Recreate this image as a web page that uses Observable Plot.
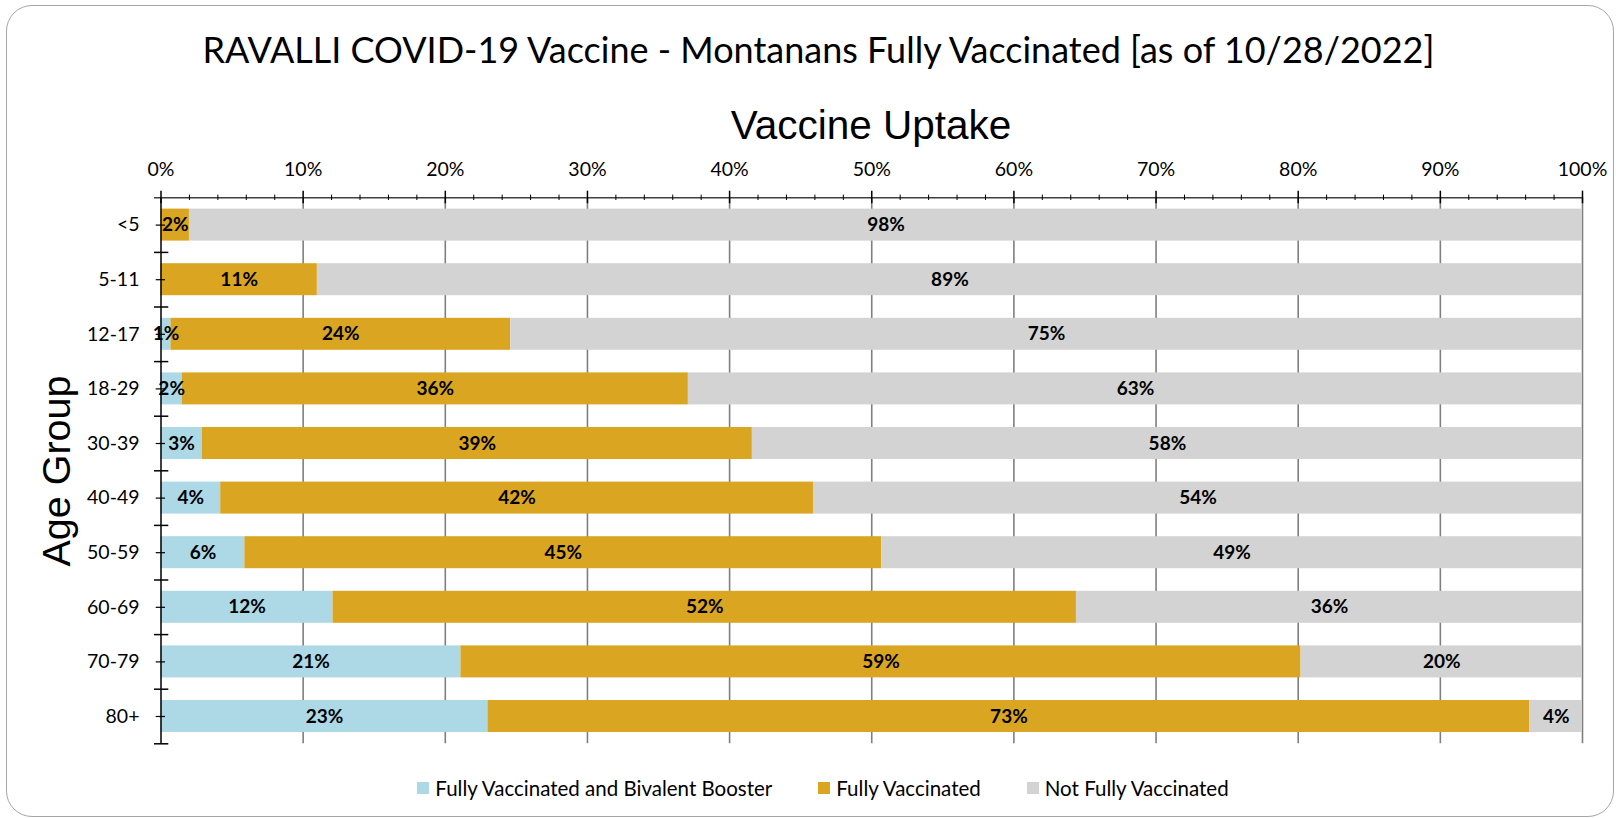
<!DOCTYPE html>
<html>
<head>
<meta charset="utf-8">
<script src="https://cdn.jsdelivr.net/npm/d3@7"></script>
<script src="https://cdn.jsdelivr.net/npm/@observablehq/plot@0.6"></script>
<style>
  body { margin: 0; background: #fff; }
  #wrap { position: relative; width: 1623px; height: 818px; overflow: hidden; font-family: Lato, "Open Sans", sans-serif; color: #000; }
  #frame { position: absolute; left: 6px; top: 5px; width: 1608px; height: 812px; border: 1px solid #a6a6a6; border-radius: 26px; box-sizing: border-box; }
  #title { position: absolute; left: 0; width: 1637px; top: 30.5px; text-align: center; font-size: 36px; line-height: 1; white-space: nowrap; }
  #sub { position: absolute; left: 0; width: 1742px; top: 105px; text-align: center; font-family: "Liberation Sans", Arial, sans-serif; font-size: 40.5px; line-height: 1; white-space: nowrap; }
  #ylab { position: absolute; left: 57px; top: 470.5px; width: 400px; transform: translate(-50%, -50%) rotate(-90deg); text-align: center; font-family: "Liberation Sans", Arial, sans-serif; font-size: 39.5px; line-height: 1; white-space: nowrap; }
  #chart { position: absolute; left: 0; top: 140px; }
  #legend { position: absolute; left: 0; width: 1646px; top: 777px; display: flex; justify-content: center; gap: 46px; font-size: 20.5px; line-height: 22px; white-space: nowrap; }
  .item { display: flex; align-items: center; }
  .sw { display: inline-block; width: 12px; height: 12px; margin-right: 6px; }
</style>
</head>
<body>
<div id="wrap">
  <div id="frame"></div>
  <div id="title">RAVALLI COVID-19 Vaccine - Montanans Fully Vaccinated [as of 10/28/2022]</div>
  <div id="sub">Vaccine Uptake</div>
  <div id="ylab">Age Group</div>
  <div id="chart"></div>
  <div id="legend"></div>
</div>
<script>
// ---- data ----
const groups = ["<5", "5-11", "12-17", "18-29", "30-39", "40-49", "50-59", "60-69", "70-79", "80+"];
const booster = [0, 0, 0.7, 1.5, 2.9, 4.2, 5.9, 12.1, 21.1, 23.0];
const fully = [2.0, 11.0, 23.9, 35.6, 38.7, 41.7, 44.8, 52.3, 59.1, 73.3];
const notFully = [98.0, 89.0, 75.4, 62.9, 58.4, 54.1, 49.3, 35.6, 19.8, 3.7];
const seriesNames = ["Fully Vaccinated and Bivalent Booster", "Fully Vaccinated", "Not Fully Vaccinated"];
const seriesColors = ["lightblue", "goldenrod", "lightgray"];
const xTicks = [0, 10, 20, 30, 40, 50, 60, 70, 80, 90, 100];
const minorTicks = d3.range(0, 101, 2).filter(t => t % 10 !== 0);

const seriesValues = [booster, fully, notFully];
const rows = [];
groups.forEach((g, i) => {
  seriesNames.forEach((s, j) => rows.push({group: g, series: s, value: seriesValues[j][i]}));
});

// ---- layout ----
const W = 1623, Hsvg = 620;
const mT = 57.3, mB = 16.7, mL = 160.5, mR = 41;
const H = Hsvg - mT - mB;           // frame height
const FW = W - mL - mR;             // frame width
const step = H / groups.length;

const chart = Plot.plot({
  width: W,
  height: Hsvg,
  marginTop: mT, marginBottom: mB, marginLeft: mL, marginRight: mR,
  style: {fontFamily: "Lato, 'Open Sans', sans-serif", fontSize: "19.5px", color: "#000", background: "transparent", overflow: "visible"},
  x: {domain: [0, 100]},
  y: {domain: groups, paddingInner: 0.414, paddingOuter: 0.207, round: false},
  color: {domain: seriesNames, range: seriesColors},
  marks: [
    Plot.ruleX(xTicks.filter(t => t > 0), {x: d => d, stroke: "#7f7f7f", strokeWidth: 1.6}),
    Plot.barX(rows, Plot.stackX({x: "value", y: "group", fill: "series", order: seriesNames})),
    Plot.text(rows, Plot.stackX({
      x: "value", y: "group", z: "series", order: seriesNames,
      filter: d => d.value > 0,
      text: d => Math.round(d.value) + "%",
      fontWeight: "bold", fontSize: 19, fill: "#000"
    })),
    Plot.ruleX([0], {x: d => d, stroke: "#000", strokeWidth: 1.5}),
    Plot.ruleY([groups[0]], {y: d => d, dy: -step / 2, insetLeft: -6.5, stroke: "#404040", strokeWidth: 1.5}),
    Plot.ruleX(xTicks, {x: d => d, insetTop: -6.6, insetBottom: H - 6, stroke: "#000", strokeWidth: 1.5}),
    Plot.ruleX(minorTicks, {x: d => d, insetTop: -2.7, insetBottom: H - 2.7, stroke: "#000", strokeWidth: 1}),
    Plot.ruleY(groups, {y: d => d, insetLeft: -4.8, insetRight: FW - 4.5, stroke: "#000", strokeWidth: 1.2}),
    Plot.ruleY(groups, {y: d => d, dy: step / 2, insetLeft: -6.5, insetRight: FW - 7.8, stroke: "#000", strokeWidth: 1.5}),
    Plot.axisX({anchor: "top", ticks: xTicks, tickFormat: d => d + "%", tickSize: 0, tickPadding: 21.5, label: null}),
    Plot.axisY({tickSize: 0, tickPadding: 21.5, label: null})
  ]
});
document.getElementById("chart").appendChild(chart);

// ---- legend ----
const legend = document.getElementById("legend");
seriesNames.forEach((s, j) => {
  const item = document.createElement("div");
  item.className = "item";
  const sw = document.createElement("span");
  sw.className = "sw";
  sw.style.background = seriesColors[j];
  const t = document.createElement("span");
  t.textContent = s;
  item.appendChild(sw);
  item.appendChild(t);
  legend.appendChild(item);
});
</script>
</body>
</html>
